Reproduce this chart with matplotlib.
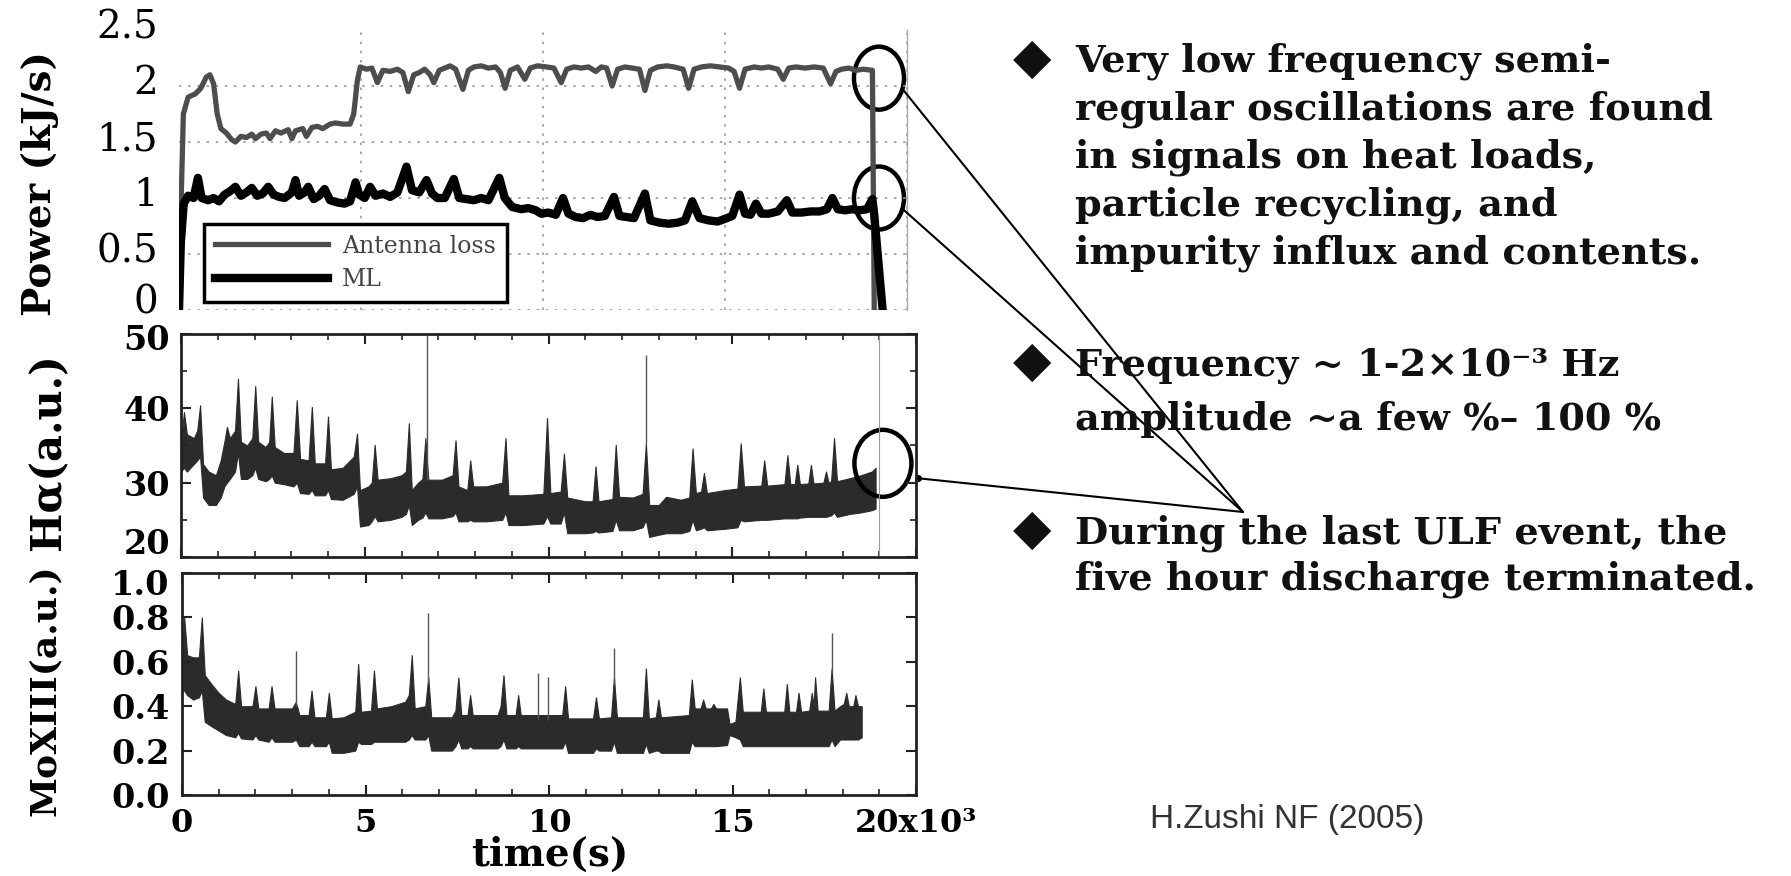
"""
Very low frequency oscillations in a five hour discharge
Power, H-alpha and MoXIII traces with notes on the right
"""

import matplotlib
matplotlib.use("Agg")
import matplotlib.pyplot as plt
import matplotlib.transforms as mtransforms
from matplotlib.patches import Ellipse, ConnectionPatch
from matplotlib.ticker import MultipleLocator
import numpy as np

FIG_W, FIG_H = 1791, 876

# ---- top panel: power (kJ/s), time in s ----
antenna_t = [0, 60, 120, 250, 450, 600, 750, 850, 950, 1050,
             1150, 1300, 1450, 1550, 1700, 1850, 2000, 2100, 2250, 2400,
             2500, 2650, 2800, 3000, 3100, 3200, 3400, 3500, 3650, 3800,
             3950, 4150, 4300, 4500, 4700, 4800, 4900, 4980, 5150, 5300,
             5450, 5600, 5800, 6000, 6150, 6300, 6450, 6600, 6750, 6900,
             7000, 7150, 7300, 7450, 7600, 7800, 7950, 8100, 8300, 8500,
             8700, 8830, 8960, 9100, 9300, 9500, 9650, 9850, 10100, 10300,
             10500, 10650, 10850, 11050, 11250, 11450, 11600, 11750, 11900, 12050,
             12250, 12450, 12650, 12800, 12950, 13150, 13400, 13600, 13850, 14000,
             14150, 14350, 14600, 14850, 15100, 15250, 15400, 15550, 15800, 16000,
             16200, 16450, 16600, 16750, 16950, 17200, 17450, 17700, 17900, 18050,
             18200, 18400, 18600, 18800, 19050, 19100]
antenna_p = [0.0, 1.00, 1.75, 1.90, 1.93, 1.98, 2.08, 2.10, 2.02, 1.75,
             1.62, 1.58, 1.52, 1.50, 1.55, 1.54, 1.57, 1.53, 1.57, 1.58,
             1.53, 1.60, 1.58, 1.61, 1.53, 1.60, 1.62, 1.55, 1.63, 1.64,
             1.62, 1.66, 1.67, 1.66, 1.66, 1.75, 2.05, 2.17, 2.15, 2.16,
             2.03, 2.14, 2.13, 2.15, 2.12, 1.95, 2.10, 2.12, 2.15, 2.10,
             2.03, 2.14, 2.16, 2.18, 2.15, 1.97, 2.14, 2.17, 2.18, 2.16,
             2.17, 2.12, 1.98, 2.14, 2.17, 2.06, 2.16, 2.18, 2.17, 2.16,
             2.03, 2.15, 2.17, 2.16, 2.17, 2.13, 2.17, 2.16, 2.00, 2.15,
             2.17, 2.16, 2.15, 1.96, 2.14, 2.17, 2.18, 2.17, 2.15, 1.98,
             2.15, 2.17, 2.18, 2.17, 2.16, 2.13, 1.98, 2.15, 2.17, 2.16,
             2.17, 2.15, 2.06, 2.16, 2.17, 2.16, 2.17, 2.16, 2.02, 2.13,
             2.15, 2.16, 2.14, 2.15, 2.14, 0.0]

ml_t = [0, 50, 130, 250, 400, 520, 620, 800, 950, 1100,
        1250, 1400, 1550, 1700, 1850, 2000, 2150, 2300, 2450, 2600,
        2750, 2900, 3100, 3200, 3300, 3450, 3550, 3700, 3850, 4000,
        4150, 4350, 4550, 4700, 4850, 4950, 5100, 5250, 5400, 5600,
        5800, 6000, 6250, 6400, 6600, 6800, 6950, 7100, 7300, 7550,
        7700, 7900, 8100, 8300, 8500, 8800, 8950, 9150, 9400, 9600,
        9800, 9950, 10150, 10350, 10550, 10700, 10900, 11100, 11300, 11500,
        11700, 11950, 12100, 12300, 12500, 12800, 12950, 13200, 13450, 13700,
        13900, 14100, 14300, 14550, 14800, 15050, 15200, 15400, 15550, 15700,
        15850, 16000, 16200, 16450, 16700, 16850, 17100, 17350, 17600, 17800,
        17950, 18100, 18300, 18500, 18700, 18900, 19050, 19100, 19330]
ml_p = [0.0, 0.60, 0.95, 1.02, 1.00, 1.18, 1.00, 0.98, 1.00, 0.97,
        1.03, 1.06, 1.10, 1.02, 1.05, 1.09, 1.02, 1.04, 1.10, 1.03,
        1.01, 1.00, 1.05, 1.16, 1.02, 1.05, 1.10, 0.99, 1.02, 1.08,
        0.98, 0.96, 0.95, 0.97, 1.14, 1.03, 1.00, 1.10, 1.02, 1.04,
        1.01, 1.05, 1.28, 1.07, 1.05, 1.16, 1.04, 1.00, 1.00, 1.17,
        1.00, 0.99, 0.98, 1.00, 0.98, 1.18, 1.00, 0.92, 0.90, 0.91,
        0.89, 0.86, 0.87, 0.85, 1.00, 0.86, 0.83, 0.82, 0.85, 0.83,
        0.84, 1.01, 0.84, 0.83, 0.82, 1.04, 0.80, 0.78, 0.77, 0.78,
        0.80, 0.97, 0.82, 0.80, 0.79, 0.82, 0.84, 1.03, 0.86, 0.85,
        0.95, 0.86, 0.86, 0.88, 0.98, 0.87, 0.87, 0.88, 0.88, 0.90,
        1.00, 0.90, 0.89, 0.90, 0.89, 0.90, 0.99, 0.85, 0.0]

# ---- H alpha (a.u.): noisy band given by lower / upper envelope ----
ha_t = [0, 80, 160, 350, 440, 520, 600, 750, 950, 1080,
        1180, 1250, 1330, 1470, 1550, 1630, 1800, 1940, 2020, 2100,
        2300, 2400, 2470, 2550, 2800, 3060, 3150, 3240, 3470, 3560,
        3640, 3920, 4000, 4080, 4400, 4700, 4790, 4870, 5100, 5190,
        5270, 5350, 5700, 6000, 6120, 6200, 6280, 6450, 6570, 6650,
        6730, 7100, 7390, 7470, 7550, 7790, 7870, 7950, 8300, 8740,
        8830, 8910, 9300, 9860, 9960, 10050, 10330, 10420, 10510, 11000,
        11200, 11280, 11360, 11740, 11830, 11920, 12300, 12560, 12650, 12740,
        13000, 13200, 13600, 13830, 13920, 14010, 14150, 14230, 14310, 14800,
        15140, 15230, 15320, 15790, 15870, 15950, 16420, 16500, 16580, 16700,
        16770, 16840, 17070, 17140, 17210, 17480, 17550, 17620, 17690, 17770,
        17850, 18200, 18500, 18800, 18900]
ha_lo = [31.5, 32.0, 31.5, 32.5, 33.0, 33.5, 28.0, 27.0, 27.0, 28.0,
         29.5, 30.0, 30.5, 31.5, 34.0, 30.5, 30.5, 31.0, 32.0, 30.5,
         30.2, 30.5, 31.0, 30.0, 29.8, 29.5, 30.0, 28.6, 28.5, 29.0,
         28.3, 28.3, 29.0, 27.8, 27.7, 28.5, 29.5, 24.1, 24.3, 24.8,
         25.5, 24.8, 25.0, 25.4, 25.8, 27.0, 24.3, 25.0, 25.3, 26.0,
         25.2, 25.2, 25.5, 26.0, 24.8, 24.8, 25.0, 24.8, 24.8, 25.0,
         26.0, 24.3, 24.3, 24.5, 25.5, 24.5, 24.5, 26.0, 23.2, 23.2,
         23.3, 23.5, 23.3, 23.5, 25.0, 23.6, 23.6, 24.0, 25.0, 22.7,
         23.0, 23.2, 23.2, 23.5, 25.0, 23.6, 23.8, 24.0, 23.6, 23.8,
         24.0, 25.0, 24.8, 25.0, 25.0, 25.0, 25.2, 25.2, 25.2, 25.2,
         25.2, 25.3, 25.4, 25.4, 25.4, 25.4, 25.4, 25.5, 25.6, 26.0,
         25.4, 25.8, 26.0, 26.3, 26.5]
ha_hi = [35.5, 39.5, 36.5, 36.0, 37.0, 40.4, 32.5, 31.5, 31.0, 33.0,
         35.5, 37.5, 36.0, 37.0, 44.0, 35.5, 35.0, 36.0, 43.0, 35.5,
         34.8, 35.5, 41.6, 34.8, 34.0, 34.0, 41.1, 33.2, 33.0, 40.2,
         32.6, 32.6, 38.9, 31.8, 32.0, 33.5, 36.6, 29.0, 29.5, 30.0,
         35.1, 30.4, 30.6, 31.0, 31.5, 38.0, 29.0, 30.0, 30.5, 36.0,
         30.4, 30.4, 31.0, 35.7, 29.5, 29.0, 33.0, 29.5, 29.5, 30.0,
         36.0, 28.3, 28.3, 28.5, 38.7, 28.6, 28.8, 33.9, 28.0, 27.5,
         27.5, 32.2, 27.5, 27.8, 35.1, 28.1, 28.0, 28.5, 35.3, 27.0,
         27.0, 28.1, 27.7, 28.0, 34.6, 28.6, 28.8, 31.3, 28.6, 29.0,
         29.2, 35.3, 29.5, 29.6, 33.0, 29.6, 29.8, 33.7, 29.8, 29.8,
         32.4, 29.8, 29.9, 32.4, 29.9, 30.0, 31.5, 30.0, 30.2, 36.0,
         30.2, 30.6, 31.0, 31.5, 32.0]
# thin single-sample spikes
ha_spike_t = [6700, 12650]
ha_spike_base = [30.4, 35.3]
ha_spike_top = [50.0, 47.2]

# ---- MoXIII (a.u.) ----
mo_t = [0, 60, 140, 300, 460, 540, 620, 800, 1000, 1200,
        1450, 1530, 1610, 1920, 2000, 2080, 2360, 2440, 2520, 3000,
        3100, 3200, 3450, 3530, 3610, 3920, 4000, 4080, 4400, 4720,
        4800, 4880, 5150, 5230, 5310, 5700, 6080, 6180, 6260, 6340,
        6630, 6710, 6790, 7350, 7450, 7530, 7610, 7780, 7850, 7920,
        8600, 8680, 8760, 8840, 9090, 9160, 9230, 10360, 10440, 10520,
        11200, 11280, 11360, 11690, 11770, 11850, 12560, 12640, 12720, 12910,
        12980, 13050, 13810, 13890, 13970, 14130, 14200, 14270, 14410, 14480,
        14550, 14850, 14920, 15080, 15200, 15280, 15770, 15840, 15910, 16410,
        16480, 16550, 16730, 16800, 16870, 17090, 17160, 17210, 17250, 17320,
        17620, 17700, 17780, 17930, 18030, 18100, 18170, 18290, 18350, 18420,
        18520]
mo_lo = [0.48, 0.47, 0.45, 0.43, 0.44, 0.47, 0.33, 0.31, 0.29, 0.27,
         0.26, 0.28, 0.255, 0.25, 0.27, 0.25, 0.24, 0.26, 0.24, 0.24,
         0.25, 0.22, 0.22, 0.24, 0.22, 0.22, 0.24, 0.19, 0.19, 0.20,
         0.24, 0.23, 0.23, 0.24, 0.24, 0.24, 0.24, 0.25, 0.27, 0.25,
         0.25, 0.27, 0.20, 0.20, 0.22, 0.25, 0.21, 0.21, 0.22, 0.21,
         0.21, 0.22, 0.25, 0.21, 0.21, 0.22, 0.21, 0.21, 0.24, 0.19,
         0.19, 0.21, 0.20, 0.20, 0.24, 0.19, 0.19, 0.23, 0.19, 0.20,
         0.20, 0.19, 0.19, 0.24, 0.22, 0.22, 0.22, 0.22, 0.22, 0.22,
         0.22, 0.225, 0.27, 0.26, 0.25, 0.22, 0.22, 0.22, 0.22, 0.22,
         0.22, 0.22, 0.22, 0.22, 0.22, 0.22, 0.22, 0.22, 0.22, 0.22,
         0.22, 0.25, 0.22, 0.25, 0.25, 0.25, 0.25, 0.25, 0.25, 0.25,
         0.26]
mo_hi = [0.60, 0.80, 0.63, 0.62, 0.62, 0.80, 0.54, 0.50, 0.46, 0.43,
         0.41, 0.56, 0.40, 0.40, 0.49, 0.39, 0.39, 0.49, 0.39, 0.39,
         0.42, 0.36, 0.36, 0.47, 0.35, 0.35, 0.46, 0.345, 0.35, 0.375,
         0.59, 0.375, 0.38, 0.56, 0.39, 0.40, 0.42, 0.45, 0.63, 0.39,
         0.40, 0.53, 0.35, 0.35, 0.38, 0.53, 0.36, 0.36, 0.45, 0.36,
         0.36, 0.40, 0.54, 0.36, 0.36, 0.45, 0.36, 0.36, 0.49, 0.345,
         0.345, 0.44, 0.345, 0.35, 0.53, 0.35, 0.35, 0.57, 0.345, 0.35,
         0.43, 0.35, 0.36, 0.52, 0.39, 0.39, 0.43, 0.39, 0.39, 0.41,
         0.39, 0.39, 0.32, 0.33, 0.53, 0.375, 0.375, 0.48, 0.375, 0.375,
         0.50, 0.375, 0.375, 0.46, 0.375, 0.38, 0.46, 0.40, 0.53, 0.38,
         0.38, 0.57, 0.38, 0.40, 0.41, 0.46, 0.40, 0.40, 0.45, 0.40,
         0.40]
mo_spike_t = [3100, 6710, 9700, 9980, 11770, 17700]
mo_spike_base = [0.40, 0.50, 0.34, 0.34, 0.50, 0.55]
mo_spike_top = [0.65, 0.82, 0.55, 0.53, 0.66, 0.73]

# discharge termination and the highlighted spots (data coordinates)
end_time = 19000
highlight_t = [19230, 19230, 19100]
highlight_v = [2.07, 1.00, 32.6]

power_ticks = [0, 0.5, 1, 1.5, 2, 2.5]
power_labels = ['0', '0.5', '1', '1.5', '2', '2.5']
ha_ticks = [20, 30, 40, 50]
mo_ticks = [0.0, 0.2, 0.4, 0.6, 0.8, 1.0]
mo_labels = ['0.0', '0.2', '0.4', '0.6', '0.8', '1.0']
time_ticks = [0, 5000, 10000, 15000, 20000]
time_labels = ['0', '5', '10', '15', '20x10\u00b3']

note_lines = ["Very low frequency semi-",
              "regular oscillations are found",
              "in signals on heat loads,",
              "particle recycling, and",
              "impurity influx and contents.",
              "Frequency ~ 1-2\u00d710\u207b\u00b3 Hz",
              "amplitude ~a few %\u2013 100 %",
              "During the last ULF event, the",
              "five hour discharge terminated."]
bullet_lines = [0, 5, 7]
credit = "H.Zushi NF (2005)"

plt.rcParams['font.family'] = ['DejaVu Serif', 'DejaVu Sans']


def px_rect(x0, y0, x1, y1):
    """Axes rectangle in figure fractions from pixel corners (origin top-left)"""
    return [x0 / FIG_W, 1 - y1 / FIG_H, (x1 - x0) / FIG_W, (y1 - y0) / FIG_H]


def px_point(x, y):
    return (x / FIG_W, 1 - y / FIG_H)


def shift_labels(fig, labels, dy_px):
    """Move tick labels up (+) or down (-) by a few pixels"""
    off = mtransforms.ScaledTranslation(0, dy_px / fig.dpi, fig.dpi_scale_trans)
    for lab in labels:
        lab.set_transform(lab.get_transform() + off)


def style_box_axes(ax):
    """Igor-like framed panel with inward ticks on all sides"""
    for s in ax.spines.values():
        s.set_linewidth(2.0)
        s.set_color('#222222')
    ax.set_xlim(0, 20000)
    ax.xaxis.set_major_locator(MultipleLocator(5000))
    ax.xaxis.set_minor_locator(MultipleLocator(1000))
    ax.tick_params(which='both', direction='in', top=True, right=True, color='#222222')
    ax.tick_params(which='major', length=7, width=1.5)
    ax.tick_params(which='minor', length=4, width=1.2)


def plot_power(fig):
    ax = fig.add_axes(px_rect(179, 30, 907, 310))
    ax.plot(antenna_t, antenna_p, color='#4d4d4d', lw=3.8, label='Antenna loss')
    ax.plot(ml_t, ml_p, color='black', lw=6.0, label='ML')
    ax.set_xlim(0, 20000)
    ax.set_ylim(0, 2.5)
    for side in ['top', 'left', 'bottom']:
        ax.spines[side].set_visible(False)
    ax.spines['right'].set_color('#aaaaaa')
    ax.spines['right'].set_linewidth(1.0)
    ax.set_xticks(time_ticks[1:])
    ax.tick_params(axis='x', length=0, labelbottom=False)
    ax.set_yticks(power_ticks)
    ax.set_yticklabels(power_labels, fontsize=28)
    ax.tick_params(axis='y', length=0, pad=15)
    labels = ax.get_yticklabels()
    shift_labels(fig, labels[1:], 6)
    # the zero sits a little higher so it clears the panel below
    shift_labels(fig, labels[:1], 11)
    ax.grid(True, linestyle=(0, (1.5, 4)), color='#999999', lw=1.2)
    ax.get_ygridlines()[-1].set_visible(False)

    leg = ax.legend(loc='upper left', bbox_to_anchor=px_point(204, 224),
                    bbox_transform=fig.transFigure, borderaxespad=0,
                    fancybox=False, edgecolor='black', framealpha=1,
                    fontsize=17, handlelength=4.8, handletextpad=0.6,
                    borderpad=0.45, labelspacing=0.45)
    leg.get_frame().set_linewidth(2.5)
    for txt in leg.get_texts():
        txt.set_color('#444444')
    return ax


def plot_halpha(fig):
    ax = fig.add_axes(px_rect(181, 334, 916, 557))
    ax.vlines(ha_spike_t, ha_spike_base, ha_spike_top, color='#555555', lw=1.0)
    ax.fill_between(ha_t, ha_lo, ha_hi, color='#2b2b2b', edgecolor='#2b2b2b', lw=0.8)
    ax.axvline(end_time, color='#999999', lw=0.8)
    style_box_axes(ax)
    ax.set_ylim(20, 50)
    ax.yaxis.set_minor_locator(MultipleLocator(5))
    ax.set_yticks(ha_ticks)
    ax.set_yticklabels([str(v) for v in ha_ticks], fontsize=24, fontweight='bold')
    ax.tick_params(axis='y', pad=8)
    ax.tick_params(axis='x', labelbottom=False)
    labels = ax.get_yticklabels()
    # lowest label sits just above the frame corner, as in the original
    labels[0].set_va('bottom')
    shift_labels(fig, labels[:1], -4)
    shift_labels(fig, labels[-1:], -3)
    return ax


def plot_moxiii(fig):
    ax = fig.add_axes(px_rect(182, 573, 916, 795))
    ax.vlines(mo_spike_t, mo_spike_base, mo_spike_top, color='#555555', lw=1.0)
    ax.fill_between(mo_t, mo_lo, mo_hi, color='#2b2b2b', edgecolor='#2b2b2b', lw=0.8)
    style_box_axes(ax)
    ax.set_ylim(0, 1.0)
    ax.set_yticks(mo_ticks)
    ax.set_yticklabels(mo_labels, fontsize=24, fontweight='bold')
    ax.tick_params(axis='y', pad=9)
    ax.get_yticklabels()[-1].set_va('top')
    shift_labels(fig, ax.get_yticklabels()[-1:], 4)
    ax.set_xticks(time_ticks)
    ax.set_xticklabels(time_labels, fontsize=23, fontweight='bold')
    ax.tick_params(axis='x', pad=9)
    return ax


def add_axis_titles(fig):
    fig.text(*px_point(40, 184), 'Power (kJ/s)', rotation=90, ha='center', va='center',
             fontsize=28, fontweight='bold')
    fig.text(*px_point(48, 452), 'H\u03b1(a.u.)', rotation=90, ha='center', va='center',
             fontsize=30, fontweight='bold')
    fig.text(*px_point(45, 690), 'MoXIII(a.u.)', rotation=90, ha='center', va='center',
             fontsize=26, fontweight='bold')
    fig.text(*px_point(550, 855), 'time(s)', ha='center', va='center',
             fontsize=28, fontweight='bold')


def add_highlights(fig, ax_p, ax_h):
    """Circles at the last ULF event, joined to the note on the right"""
    target = px_point(1243, 512)
    axes = [ax_p, ax_p, ax_h]
    size_px = [(50, 63), (50, 63), (57, 67)]
    for ax, t, v, (wpx, hpx) in zip(axes, highlight_t, highlight_v, size_px):
        bbox = ax.get_position()
        x0, x1 = ax.get_xlim()
        y0, y1 = ax.get_ylim()
        w = wpx / (bbox.width * FIG_W) * (x1 - x0)
        h = hpx / (bbox.height * FIG_H) * (y1 - y0)
        ax.add_patch(Ellipse((t, v), w, h, fill=False, ec='black', lw=3.2, clip_on=False))
        ang = np.deg2rad(-20)
        start = (t + 0.5 * w * np.cos(ang), v + 0.5 * h * np.sin(ang))
        if ax is ax_h:
            start = (t + 0.65 * w * np.cos(ang), v + 0.65 * h * np.sin(ang))
            ax.plot(*start, 'o', ms=4, color='black', clip_on=False)
        con = ConnectionPatch(xyA=start, coordsA=ax.transData,
                              xyB=target, coordsB=fig.transFigure,
                              color='black', lw=1.5)
        fig.add_artist(con)


def add_notes(fig):
    baselines = [72, 120, 168, 215, 263, 375, 430, 543, 590]
    for i, (line, yb) in enumerate(zip(note_lines, baselines)):
        fig.text(*px_point(1075, yb), line, ha='left', va='baseline',
                 fontsize=27.5, fontweight='bold', color='#111111')
        if i in bullet_lines:
            fig.text(*px_point(1032, yb - 13), '\u25c6', ha='center', va='center',
                     fontsize=36, family='DejaVu Sans', color='#111111')
    fig.text(*px_point(1150, 828), credit, ha='left', va='baseline',
             fontsize=24, family='Liberation Sans', color='#333333')


def main():
    fig = plt.figure(figsize=(FIG_W / 100, FIG_H / 100), dpi=100)
    ax_p = plot_power(fig)
    ax_h = plot_halpha(fig)
    plot_moxiii(fig)
    add_axis_titles(fig)
    add_highlights(fig, ax_p, ax_h)
    add_notes(fig)
    fig.savefig('out.png', dpi=100)
    plt.close(fig)
    print("saved out.png")


if __name__ == "__main__":
    main()
